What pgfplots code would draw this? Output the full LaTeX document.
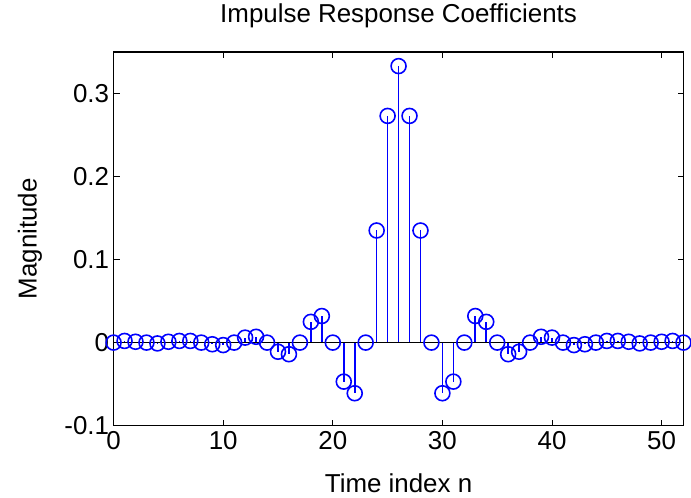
\documentclass[border=0pt]{standalone}
\usepackage{pgfplots}
\pgfplotsset{compat=1.18}
\usepackage{fontspec}
\setmainfont{Liberation Sans}
\definecolor{mblue}{RGB}{0,0,255}
\pgfplotstableread{
n h
0 0.000
1 0.002
2 0.001
3 0.000
4 -0.001
5 0.001
6 0.002
7 0.002
8 0.000
9 -0.002
10 -0.003
11 0.000
12 0.006
13 0.007
14 0.000
15 -0.011
16 -0.014
17 0.000
18 0.025
19 0.032
20 0.000
21 -0.047
22 -0.061
23 0.000
24 0.135
25 0.273
26 0.333
27 0.273
28 0.135
29 0.000
30 -0.061
31 -0.047
32 0.000
33 0.032
34 0.025
35 0.000
36 -0.014
37 -0.011
38 0.000
39 0.007
40 0.006
41 0.000
42 -0.003
43 -0.002
44 0.000
45 0.002
46 0.002
47 0.001
48 -0.001
49 0.000
50 0.001
51 0.002
52 0.000
}\hdata
\begin{document}
\begin{tikzpicture}
\begin{axis}[
  name=ax,
  scale only axis,
  width=572pt, height=375pt,
  xmin=0, xmax=52, ymin=-0.1, ymax=0.35,
  xtick={0,10,20,30,40,50},
  ytick={-0.1,0,0.1,0.2,0.3},
  yticklabels={-0.1,0,0.1,0.2,0.3},
  tick align=inside,
  major tick length=6pt,
  axis line style={black, line width=1.2pt},
  tick style={black, line width=1pt},
  /pgf/number format/assume math mode=true,
  tick label style={font=\fontsize{26}{30}\selectfont},
  xticklabel style={yshift=-2pt},
  yticklabel style={xshift=-1pt},
  title={Impulse Response Coefficients},
  title style={font=\fontsize{26}{30}\selectfont, at={(axis description cs:0.5,1.064)}, anchor=base},
  xlabel={Time index n},
  xlabel style={font=\fontsize{26}{30}\selectfont, at={(axis description cs:0.5,-0.179)}, anchor=base},
  ylabel={Magnitude},
  ylabel style={font=\fontsize{26}{30}\selectfont, at={(axis description cs:-0.147,0.5)}, rotate=0, anchor=center},
  clip=false,
]
\addplot[ycomb, mblue, line width=1.6pt, no markers] table[x=n,y=h] {\hdata};
\addplot[only marks, mark=o, mark size=7.5pt, mark options={draw=mblue, line width=1.6pt}] table[x=n,y=h] {\hdata};
\addplot[black, line width=1.2pt] coordinates {(0,0) (52,0)};
\end{axis}
\path (ax.south west) ++(-114pt,-72pt) coordinate (bl);
\path (ax.north east) ++(5pt,52pt) coordinate (tr);
\path (bl) rectangle (tr);
\end{tikzpicture}
\end{document}
